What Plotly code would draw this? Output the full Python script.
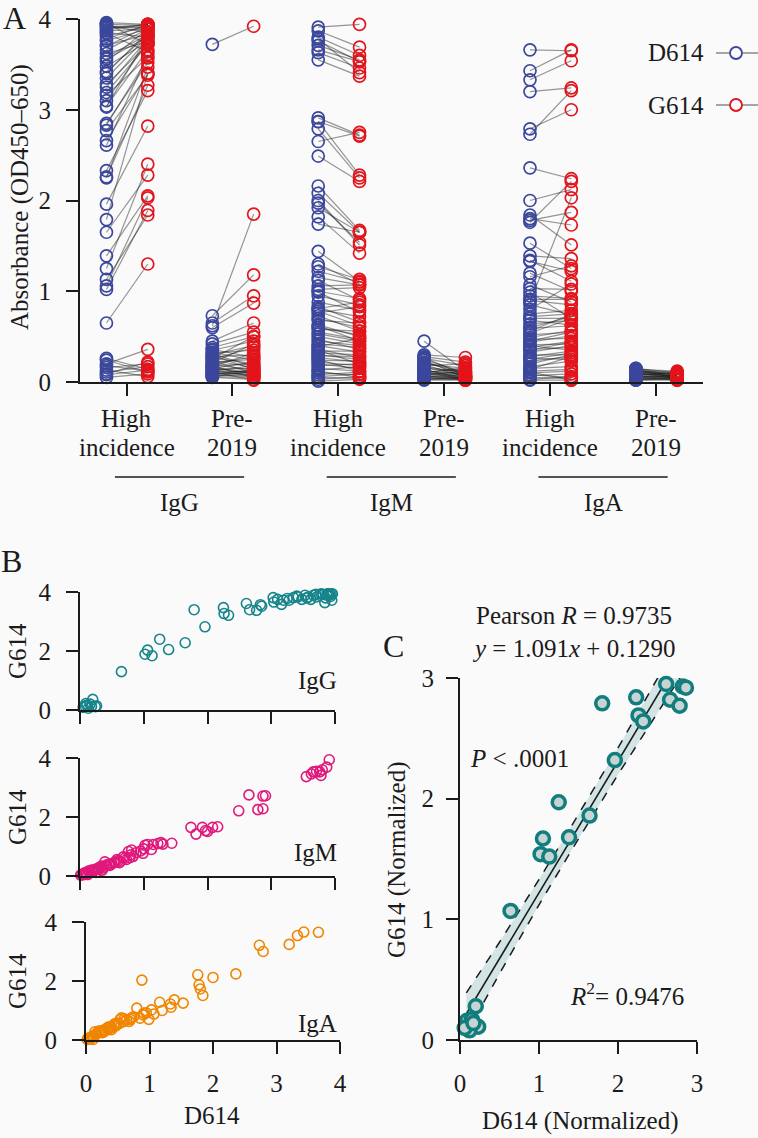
import plotly.graph_objects as go

W, H = 758, 1138
FONT = "Liberation Serif, 'Times New Roman', Times, 'DejaVu Serif', serif"
INK = "#1b1b1b"
BG = "#fafafa"
BLUE = "#3b479c"
RED = "#e2141c"
TEAL_B = "#17858a"
MAGENTA = "#e0187c"
ORANGE = "#f08500"
TEAL_C = "#117d7d"
FS = 25

# ---------------- data ----------------
# Panel A / B : paired absorbance values (D614, G614)
igg_hi_d614 = [0.05, 0.08, 0.11, 0.16, 0.20, 0.24, 0.26, 0.13, 0.09, 0.18,
               0.65, 1.02, 1.06, 1.13, 1.25, 1.39, 1.65, 1.79, 1.96, 2.25, 2.26, 2.33, 2.61, 2.66, 2.77, 2.83, 2.85,
               3.03, 3.04, 3.10, 3.16, 3.19, 3.25, 3.28, 3.35, 3.40, 3.42, 3.48, 3.53, 3.56, 3.58, 3.62, 3.66,
               3.70, 3.71, 3.76, 3.78, 3.81, 3.84, 3.85, 3.87, 3.88, 3.90, 3.92, 3.93, 3.95, 3.96, 3.94, 3.91]
igg_hi_g614 = [0.09, 0.13, 0.17, 0.20, 0.36, 0.11, 0.14, 0.06, 0.22, 0.12,
               1.30, 1.89, 2.03, 1.84, 2.40, 2.05, 2.28, 3.40, 2.82, 3.47, 3.27, 3.21, 3.61, 3.40, 3.38, 3.57, 3.52,
               3.81, 3.66, 3.75, 3.58, 3.72, 3.78, 3.72, 3.81, 3.86, 3.83, 3.75, 3.89, 3.80, 3.83, 3.75, 3.89,
               3.92, 3.83, 3.89, 3.94, 3.92, 3.64, 3.80, 3.89, 3.94, 3.94, 3.91, 3.85, 3.72, 3.94, 3.93, 3.90]

igg_pre_d614 = [3.72, 0.62, 0.73, 0.65, 0.60, 0.45, 0.42, 0.38, 0.35, 0.30, 0.32, 0.28, 0.25, 0.22, 0.20,
                0.18, 0.15, 0.14, 0.12, 0.10, 0.09, 0.08, 0.07, 0.06, 0.05, 0.11, 0.13, 0.16, 0.19, 0.24,
                0.27, 0.33, 0.36, 0.17, 0.21, 0.26, 0.10, 0.12, 0.15, 0.08, 0.06, 0.23, 0.29, 0.31, 0.18]
igg_pre_g614 = [3.92, 1.85, 1.18, 0.95, 0.87, 0.65, 0.55, 0.50, 0.45, 0.40, 0.35, 0.30, 0.38, 0.25, 0.28,
                0.20, 0.22, 0.15, 0.18, 0.12, 0.10, 0.14, 0.08, 0.05, 0.03, 0.02, 0.06, 0.10, 0.13, 0.16,
                0.20, 0.24, 0.27, 0.32, 0.42, 0.50, 0.08, 0.11, 0.09, 0.06, 0.12, 0.10, 0.14, 0.17, 0.05]

igm_hi_d614 = [3.55, 3.63, 3.66, 3.71, 3.76, 3.80, 3.78, 3.87, 3.91,
               2.49, 2.65, 2.79, 2.87, 2.87, 2.91,
               1.74, 1.82, 1.92, 1.97, 2.00, 2.08, 2.16,
               1.44, 1.27, 1.15, 1.06, 1.12, 0.99, 0.88, 0.81, 0.80, 0.76, 0.83, 0.73, 0.68, 0.63, 0.58, 0.53,
               0.45, 0.39, 0.34, 0.29, 0.24, 0.18, 0.13, 0.08, 0.03, 0.01,
               0.05, 0.10, 0.15, 0.20, 0.22, 0.27, 0.30, 0.32, 0.36, 0.40, 0.42, 0.47, 0.50, 0.55, 0.60, 0.62,
               0.70, 0.78, 0.95, 1.00, 1.02, 0.12, 0.06, 0.25, 0.35, 1.22, 1.30]
igm_hi_g614 = [3.37, 3.46, 3.53, 3.55, 3.53, 3.60, 3.41, 3.69, 3.94,
               2.21, 2.75, 2.25, 2.28, 2.71, 2.72,
               1.65, 1.42, 1.65, 1.54, 1.51, 1.65, 1.67,
               1.11, 1.13, 1.07, 1.07, 0.90, 0.77, 0.79, 0.88, 0.72, 0.83, 0.66, 0.56, 0.65, 0.50, 0.56, 0.45,
               0.40, 0.48, 0.34, 0.28, 0.23, 0.20, 0.17, 0.11, 0.06, 0.03,
               0.04, 0.08, 0.12, 0.15, 0.18, 0.22, 0.25, 0.30, 0.27, 0.33, 0.38, 0.36, 0.42, 0.47, 0.52, 0.45,
               0.60, 0.62, 0.85, 0.92, 1.04, 0.05, 0.09, 0.12, 0.20, 1.10, 1.08]

igm_pre_d614 = [0.45, 0.30, 0.28, 0.26, 0.25, 0.22, 0.20, 0.18, 0.16, 0.15, 0.13, 0.12, 0.11, 0.10, 0.09,
                0.08, 0.07, 0.06, 0.05, 0.04, 0.03, 0.02, 0.14, 0.17, 0.19, 0.21, 0.24, 0.09, 0.06, 0.12,
                0.10, 0.08, 0.27, 0.05, 0.03]
igm_pre_g614 = [0.12, 0.27, 0.22, 0.18, 0.10, 0.08, 0.15, 0.20, 0.07, 0.12, 0.05, 0.09, 0.14, 0.06, 0.04,
                0.08, 0.03, 0.05, 0.02, 0.04, 0.03, 0.02, 0.03, 0.10, 0.06, 0.11, 0.05, 0.10, 0.08, 0.02,
                0.16, 0.12, 0.07, 0.06, 0.05]

iga_hi_d614 = [3.66, 3.43, 3.33, 3.20, 2.73, 2.79, 2.36, 2.00, 1.76, 1.78, 1.80, 1.84, 0.88, 1.53, 1.39,
               1.33, 1.34, 1.16, 1.20, 1.03, 0.99, 1.07, 0.91, 0.80, 0.85, 0.75, 0.64, 0.59, 0.54, 0.49,
               0.44, 0.38, 0.33, 0.28, 0.23, 0.17, 0.12, 0.07, 0.02,
               0.56, 0.60, 0.52, 0.47, 0.41, 0.36, 0.30, 0.26, 0.20, 0.15, 0.10, 0.05, 0.70, 0.68, 0.45,
               0.40, 0.35, 0.25, 0.14, 0.08, 0.03, 0.11, 0.72, 0.90, 0.95]
iga_hi_g614 = [3.65, 3.66, 3.54, 3.24, 3.21, 3.00, 2.24, 2.12, 2.21, 1.87, 1.73, 1.51, 2.03, 1.25, 1.36,
               1.22, 1.11, 1.28, 1.00, 1.02, 0.70, 0.88, 0.91, 1.08, 0.74, 0.79, 0.68, 0.62, 0.70, 0.57,
               0.51, 0.45, 0.40, 0.34, 0.28, 0.23, 0.14, 0.09, 0.02,
               0.75, 0.72, 0.55, 0.48, 0.42, 0.38, 0.30, 0.25, 0.30, 0.17, 0.12, 0.04, 0.70, 0.63, 0.55,
               0.35, 0.44, 0.32, 0.28, 0.05, 0.06, 0.02, 0.75, 0.85, 0.92]

iga_pre_d614 = [0.15, 0.14, 0.13, 0.12, 0.11, 0.10, 0.09, 0.08, 0.07, 0.06, 0.05, 0.04, 0.03, 0.02,
                0.12, 0.10, 0.08, 0.06, 0.04, 0.14, 0.11, 0.09, 0.07, 0.05, 0.13, 0.03, 0.02, 0.15]
iga_pre_g614 = [0.10, 0.12, 0.08, 0.05, 0.09, 0.06, 0.04, 0.07, 0.03, 0.05, 0.02, 0.04, 0.03, 0.02,
                0.11, 0.10, 0.08, 0.06, 0.07, 0.04, 0.03, 0.09, 0.11, 0.08, 0.06, 0.05, 0.04, 0.07]

a_tick_line1 = ["High", "Pre-"] * 3
a_tick_line2 = ["incidence", "2019"] * 3
isotypes = ["IgG", "IgM", "IgA"]

# Panel C : normalized values
c_d614 = [2.61, 2.82, 2.86, 2.66, 2.78, 2.23, 1.80, 2.26, 2.32, 1.96, 1.25, 1.64, 1.05, 1.38, 1.02, 1.13,
          0.64, 0.20, 0.09, 0.15, 0.23, 0.12, 0.06, 0.17]
c_g614 = [2.95, 2.93, 2.92, 2.82, 2.77, 2.84, 2.79, 2.69, 2.64, 2.32, 1.97, 1.86, 1.67, 1.68, 1.54, 1.52,
          1.07, 0.28, 0.16, 0.17, 0.11, 0.08, 0.10, 0.14]
reg_slope = 1.091
reg_intercept = 0.1290
reg_x = [0.08, 2.86]
band_x = [0.08, 0.5, 1.0, 1.4, 2.0, 2.5, 2.9]
band_upper = [0.39, 0.81, 1.33, 1.76, 2.42, 3.00, 3.46]
band_lower = [0.05, 0.55, 1.12, 1.56, 2.20, 2.72, 3.12]


def px(x):
    return x / W


def py(y):
    return 1 - y / H


fig = go.Figure()

# ---------------- Panel A ----------------
groups_a = [(igg_hi_d614, igg_hi_g614), (igg_pre_d614, igg_pre_g614),
            (igm_hi_d614, igm_hi_g614), (igm_pre_d614, igm_pre_g614),
            (iga_hi_d614, iga_hi_g614), (iga_pre_d614, iga_pre_g614)]
D_OFF, G_OFF = -0.19, 0.20
lx, ly, bx, by, rx, ry = [], [], [], [], [], []
for i, (d, g) in enumerate(groups_a):
    for a, b in zip(d, g):
        lx += [i + D_OFF, i + G_OFF, None]
        ly += [a, b, None]
    bx += [i + D_OFF] * len(d)
    by += list(d)
    rx += [i + G_OFF] * len(g)
    ry += list(g)

fig.add_trace(go.Scatter(x=lx, y=ly, mode="lines", line=dict(color="rgba(25,25,25,0.45)", width=1.2),
                         xaxis="x", yaxis="y", hoverinfo="skip", showlegend=False))
fig.add_trace(go.Scatter(x=bx, y=by, mode="markers", name="D614",
                         marker=dict(symbol="circle-open", size=12, color=BLUE, line=dict(width=1.7)),
                         xaxis="x", yaxis="y", cliponaxis=False, showlegend=False))
fig.add_trace(go.Scatter(x=rx, y=ry, mode="markers", name="G614",
                         marker=dict(symbol="circle-open", size=12, color=RED, line=dict(width=1.7)),
                         xaxis="x", yaxis="y", cliponaxis=False, showlegend=False))

# ---------------- Panel B ----------------
b_sets = [(igg_hi_d614, igg_hi_g614, TEAL_B, "2"),
          (igm_hi_d614, igm_hi_g614, MAGENTA, "3"),
          (iga_hi_d614, iga_hi_g614, ORANGE, "4")]
for d, g, col, k in b_sets:
    fig.add_trace(go.Scatter(x=d, y=g, mode="markers",
                             marker=dict(symbol="circle-open", size=10, color=col, line=dict(width=1.6)),
                             xaxis="x" + k, yaxis="y" + k, cliponaxis=False, showlegend=False))

# ---------------- Panel C ----------------
fig.add_trace(go.Scatter(x=band_x, y=band_upper, mode="lines",
                         line=dict(color=INK, width=1.5, dash="dash"), xaxis="x5", yaxis="y5",
                         showlegend=False, hoverinfo="skip"))
fig.add_trace(go.Scatter(x=band_x, y=band_lower, mode="lines", fill="tonexty",
                         fillcolor="rgba(120,180,180,0.30)",
                         line=dict(color=INK, width=1.5, dash="dash"), xaxis="x5", yaxis="y5",
                         showlegend=False, hoverinfo="skip"))
fig.add_trace(go.Scatter(x=reg_x, y=[reg_slope * v + reg_intercept for v in reg_x], mode="lines",
                         line=dict(color=INK, width=1.6), xaxis="x5", yaxis="y5",
                         showlegend=False, hoverinfo="skip"))
fig.add_trace(go.Scatter(x=c_d614, y=c_g614, mode="markers",
                         marker=dict(symbol="circle", size=13, color="#c8d4d4",
                                     line=dict(color=TEAL_C, width=3.5)),
                         xaxis="x5", yaxis="y5", cliponaxis=False, showlegend=False))

# ---------------- axes ----------------
common = dict(showline=True, linecolor=INK, linewidth=2, ticks="outside", ticklen=12, tickwidth=2,
              tickcolor=INK, showgrid=False, zeroline=False, automargin=False,
              tickfont=dict(family=FONT, size=FS, color=INK), fixedrange=True)

layout_axes = dict(
    xaxis=dict(common, domain=[px(80), px(703)], range=[-0.44, 5.444], anchor="y",
               tickvals=list(range(6)), showticklabels=False),
    yaxis=dict(common, domain=[py(382), py(19)], range=[0, 4], anchor="x",
               tickvals=[0, 1, 2, 3, 4], ticklabelstandoff=10),
    xaxis2=dict(common, domain=[px(80), px(335)], range=[0, 4], anchor="y2",
                tickvals=[0, 1, 2, 3, 4], showticklabels=False),
    yaxis2=dict(common, domain=[py(710), py(592)], range=[0, 4], anchor="x2",
                tickvals=[0, 2, 4], ticklabelstandoff=10),
    xaxis3=dict(common, domain=[px(80), px(335)], range=[0, 4], anchor="y3",
                tickvals=[0, 1, 2, 3, 4], showticklabels=False),
    yaxis3=dict(common, domain=[py(876), py(758)], range=[0, 4], anchor="x3",
                tickvals=[0, 2, 4], ticklabelstandoff=10),
    xaxis4=dict(common, domain=[px(86), px(340)], range=[0, 4], anchor="y4",
                tickvals=[0, 1, 2, 3, 4], ticklabelstandoff=8),
    yaxis4=dict(common, domain=[py(1040), py(922)], range=[0, 4], anchor="x4",
                tickvals=[0, 2, 4], ticklabelstandoff=10),
    xaxis5=dict(common, domain=[px(460), px(697)], range=[0, 3], anchor="y5",
                tickvals=[0, 1, 2, 3], ticklabelstandoff=8),
    yaxis5=dict(common, domain=[py(1040), py(678)], range=[0, 3], anchor="x5",
                tickvals=[0, 1, 2, 3], ticklabelstandoff=7),
)

# ---------------- annotations & shapes ----------------
def txt(text, x, y, size=FS, angle=0, xanchor="center", yanchor="middle", xref="paper"):
    return dict(text=text, x=x, y=y, xref=xref, yref="paper", showarrow=False, textangle=angle,
                xanchor=xanchor, yanchor=yanchor, font=dict(family=FONT, size=size, color=INK))

annotations = [
    txt("A", px(14), py(18), size=32),
    txt("B", px(11), py(561), size=32),
    txt("C", px(393), py(646), size=32),
    txt("Absorbance (OD450–650)", px(20), py(197), angle=-90),
    txt("D614", px(706), py(53), xanchor="right"),
    txt("G614", px(706), py(105), xanchor="right"),
    txt("G614", px(17), py(651), angle=-90),
    txt("G614", px(17), py(817), angle=-90),
    txt("G614", px(17), py(981), angle=-90),
    txt("IgG", px(339), py(680), xanchor="right"),
    txt("IgM", px(339), py(852), xanchor="right"),
    txt("IgA", px(339), py(1023), xanchor="right"),
    txt("D614", px(212), py(1115)),
    txt("Pearson <i>R</i> = 0.9735", px(574), py(615)),
    txt("<i>y</i> = 1.091<i>x</i> + 0.1290", px(573), py(648)),
    txt("<i>P</i> < .0001", px(468), py(758), xanchor="left"),
    txt("<i>R</i><sup>2</sup>= 0.9476", px(686), py(994), xanchor="right"),
    txt("G614 (Normalized)", px(397), py(860), angle=-90),
    txt("D614 (Normalized)", px(580), py(1121)),
]
# two-line category labels of panel A
for i, (l1, l2) in enumerate(zip(a_tick_line1, a_tick_line2)):
    annotations.append(txt(l1, i, py(419), xref="x"))
    annotations.append(txt(l2, i, py(447), xref="x"))

shapes = []
for j, name in enumerate(isotypes):
    c = 2 * j + 0.5
    annotations.append(txt(name, c, py(503), xref="x"))
    shapes.append(dict(type="line", xref="x", yref="paper", x0=c - 0.61, x1=c + 0.61,
                       y0=py(477), y1=py(477), line=dict(color=INK, width=1.6)))

# manual legend symbols (text left of symbol)
for yy, col in [(53, BLUE), (105, RED)]:
    shapes.append(dict(type="line", xref="paper", yref="paper", x0=px(716), x1=px(758),
                       y0=py(yy), y1=py(yy), line=dict(color="#888888", width=1.5)))
    shapes.append(dict(type="circle", xref="paper", yref="paper", x0=px(730), x1=px(742),
                       y0=py(yy + 6), y1=py(yy - 6), fillcolor=BG, line=dict(color=col, width=1.8)))

fig.update_layout(
    width=W, height=H, margin=dict(l=0, r=0, t=0, b=0, pad=0, autoexpand=False),
    paper_bgcolor=BG, plot_bgcolor=BG,
    font=dict(family=FONT, size=FS, color=INK),
    annotations=annotations, shapes=shapes, showlegend=False,
    **layout_axes,
)

page_fix = (
    "var els=[document.documentElement, document.body];"
    "els.forEach(function(e){e.style.margin='0';e.style.padding='0';e.style.overflow='hidden';"
    "e.style.width='758px';e.style.height='1138px';e.style.background='#fafafa';});"
)
fig.write_html("out.html", config={"displayModeBar": False}, post_script=page_fix)
